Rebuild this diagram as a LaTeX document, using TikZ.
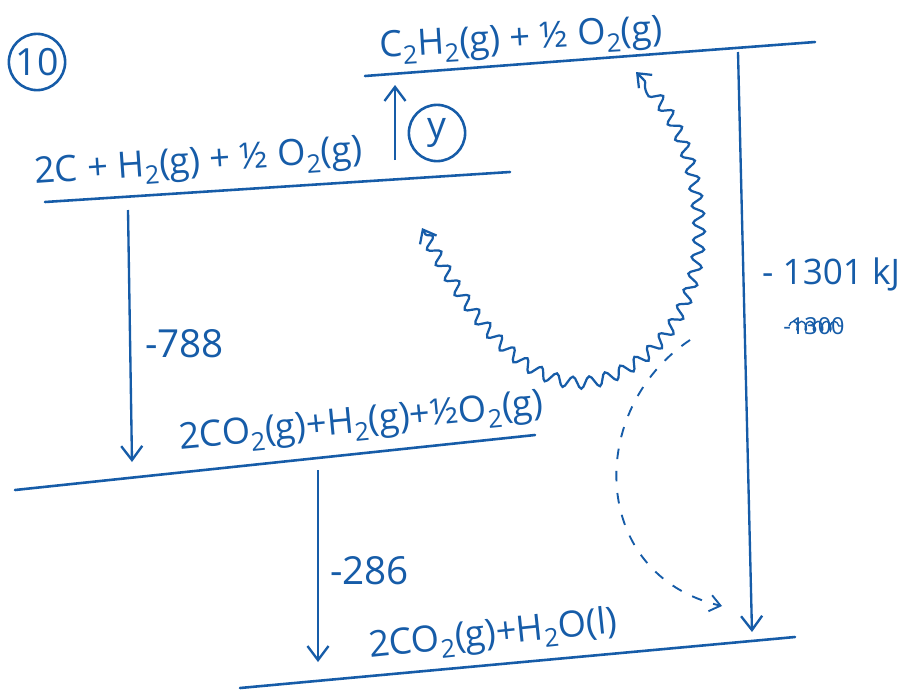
\documentclass[tikz,border=0pt]{standalone}
\usepackage{fontspec}
\setmainfont{Open Sans}
\usetikzlibrary{arrows.meta,decorations.pathmorphing}
\definecolor{ink}{RGB}{22,92,168}
\tikzset{
  level/.style={draw=ink, line width=2.2pt, line cap=round},
  lbl/.style={text=ink, font=\fontsize{31}{34}\selectfont, inner sep=0pt, anchor=base west},
  num/.style={text=ink, font=\fontsize{33}{36}\selectfont, inner sep=0pt, anchor=base west},
  circ/.style={draw=ink, line width=2.2pt, circle, text=ink, font=\fontsize{32}{34}\selectfont, inner sep=1pt, minimum size=48pt},
  drop/.style={draw=ink, line width=2pt, -{Straight Barb[length=12pt,width=18pt,line width=2pt]}},
}
\newcommand{\subs}[1]{\textsubscript{#1}}
\begin{document}
\begin{tikzpicture}[x=0.03cm,y=-0.03cm]
\useasboundingbox[fill=white] (0,0) rectangle (923,691);
% level end points
\coordinate (L1a) at (365,76);  \coordinate (L1b) at (815,42);
\coordinate (L2a) at (45,202);  \coordinate (L2b) at (510,172);
\coordinate (L3a) at (15,490);  \coordinate (L3b) at (535,435);
\coordinate (L4a) at (240,688); \coordinate (L4b) at (795,637);
\draw[level] (L1a) -- (L1b);
\draw[level] (L2a) -- (L2b);
\draw[level] (L3a) -- (L3b);
\draw[level] (L4a) -- (L4b);
% labels
\node[lbl, rotate=3.5] (t1) at (380,58) {C\subs{2}H\subs{2}(g) + ½ O\subs{2}(g)};
\node[lbl, rotate=4] (t2) at (35,184) {2C + H\subs{2}(g) + ½ O\subs{2}(g)};
\node[lbl, rotate=5.5] (t3) at (180,450) {2CO\subs{2}(g)+H\subs{2}(g)+½O\subs{2}(g)};
\node[lbl, rotate=6] (t4) at (370,658) {2CO\subs{2}(g)+H\subs{2}O(l)};
% circled labels
\node[circ] (c10) at (37,62) {10};
\node[circ] (cy) at (437,133) {y};
% arrows
\coordinate (y0) at (395,160); \coordinate (y1) at (395,85);
\draw[drop] (y0) -- (y1);
\coordinate (a0) at (128,210); \coordinate (a1) at (132,462);
\draw[drop] (a0) -- (a1);
\node[num] (n788) at (145,357) {-788};
\coordinate (b0) at (318,470); \coordinate (b1) at (318,662);
\draw[drop] (b0) -- (b1);
\node[num] (n286) at (330,584) {-286};
\coordinate (c0) at (738,52); \coordinate (c1) at (752,632);
\draw[drop] (c0) -- (c1);
\node[num, font=\fontsize{30}{33}\selectfont] (n1301) at (762,284) {- 1301 kJ};
\node[text=ink, font=\fontsize{20}{22}\selectfont, inner sep=0pt] (old) at (814,326) {-1300};
\draw[ink, line width=1.2pt, decorate, decoration={coil, segment length=7pt, amplitude=4pt}] ([xshift=5pt]old.west) -- ([xshift=-2pt]old.east);
% wavy arrow
\coordinate (w0) at (422,228); \coordinate (w1) at (636,72);
\draw[ink, line width=1.9pt, {Straight Barb[length=10pt,width=16pt,line width=1.9pt]}-{Straight Barb[length=10pt,width=16pt,line width=1.9pt]},
  decorate, decoration={snake, segment length=15pt, amplitude=5pt, pre length=6pt, post length=6pt}]
  (w0) .. controls (470,320) and (530,392) .. (595,377)
       .. controls (665,358) and (705,285) .. (696,205)
       .. controls (690,140) and (665,100) .. (w1);
% dashed arrow
\coordinate (d0) at (690,340); \coordinate (d1) at (722,606);
\draw[ink, line width=1.6pt, dash pattern=on 9pt off 10pt, -{Straight Barb[length=9pt,width=14pt,line width=1.6pt]}]
  (d0) .. controls (585,410) and (590,575) .. (d1);
\end{tikzpicture}
\end{document}
